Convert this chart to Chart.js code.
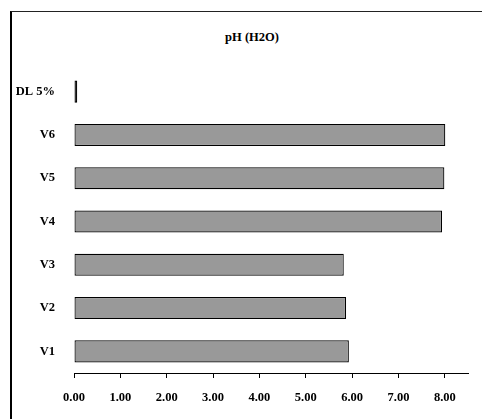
<!DOCTYPE html>
<html>
<head>
<meta charset="utf-8">
<script src="https://cdn.jsdelivr.net/npm/chart.js@4/dist/chart.umd.min.js"></script>
<style>
    html, body { margin: 0; padding: 0; background: #fff; }
    #wrap { position: relative; width: 482px; height: 419px; overflow: hidden; }
    #frame {
        position: absolute; left: 10px; top: 11px; width: 600px; height: 600px;
        border-top: 1px solid #222; border-left: 2px solid #000;
    }
    #title {
        position: absolute; left: 0; width: 504px; top: 30px; text-align: center;
        font: bold 12.5px "Liberation Serif", "Times New Roman", serif; color: #000;
    }
    #chart { position: absolute; left: 0; top: 0; }
</style>
</head>
<body>
<div id="wrap">
    <div id="frame"></div>
    <div id="title">pH (H2O)</div>
    <canvas id="chart" width="482" height="419"></canvas>
</div>
<script>
// pH (H2O) values per treatment
const categories = ['DL 5%', 'V6', 'V5', 'V4', 'V3', 'V2', 'V1'];
const phValues = [0.07, 8.01, 7.99, 7.94, 5.82, 5.87, 5.93];
const xTicks = [0, 1, 2, 3, 4, 5, 6, 7, 8];

const serif = '"Liberation Serif", "Times New Roman", serif';

new Chart(document.getElementById('chart'), {
    type: 'bar',
    data: {
        labels: categories,
        datasets: [{
            data: phValues,
            backgroundColor: categories.map(c => c === 'DL 5%' ? '#000000' : '#999999'),
            borderColor: '#000000',
            borderWidth: 1.2,
            borderSkipped: false,
            categoryPercentage: 1,
            barPercentage: 0.51
        }]
    },
    options: {
        indexAxis: 'y',
        responsive: false,
        animation: false,
        layout: { padding: { left: 0, right: 14, top: 70, bottom: 0 } },
        plugins: { legend: { display: false }, tooltip: { enabled: false } },
        scales: {
            x: {
                min: 0,
                max: 8.5,
                afterBuildTicks: s => { s.ticks = xTicks.map(v => ({ value: v })); },
                afterFit: s => { s.height = 46; },
                grid: { drawOnChartArea: false, drawTicks: true, tickLength: 5, color: '#000' },
                border: { display: true, color: '#000', width: 1 },
                ticks: {
                    padding: 12,
                    color: '#000',
                    font: { family: serif, size: 12.5, weight: 'bold' },
                    callback: v => Number(v).toFixed(2)
                }
            },
            y: {
                afterFit: s => { s.width = 74; },
                grid: { display: false },
                border: { display: false },
                ticks: {
                    padding: 11,
                    color: '#000',
                    font: { family: serif, size: 12.5, weight: 'bold' }
                }
            }
        }
    }
});
</script>
</body>
</html>
